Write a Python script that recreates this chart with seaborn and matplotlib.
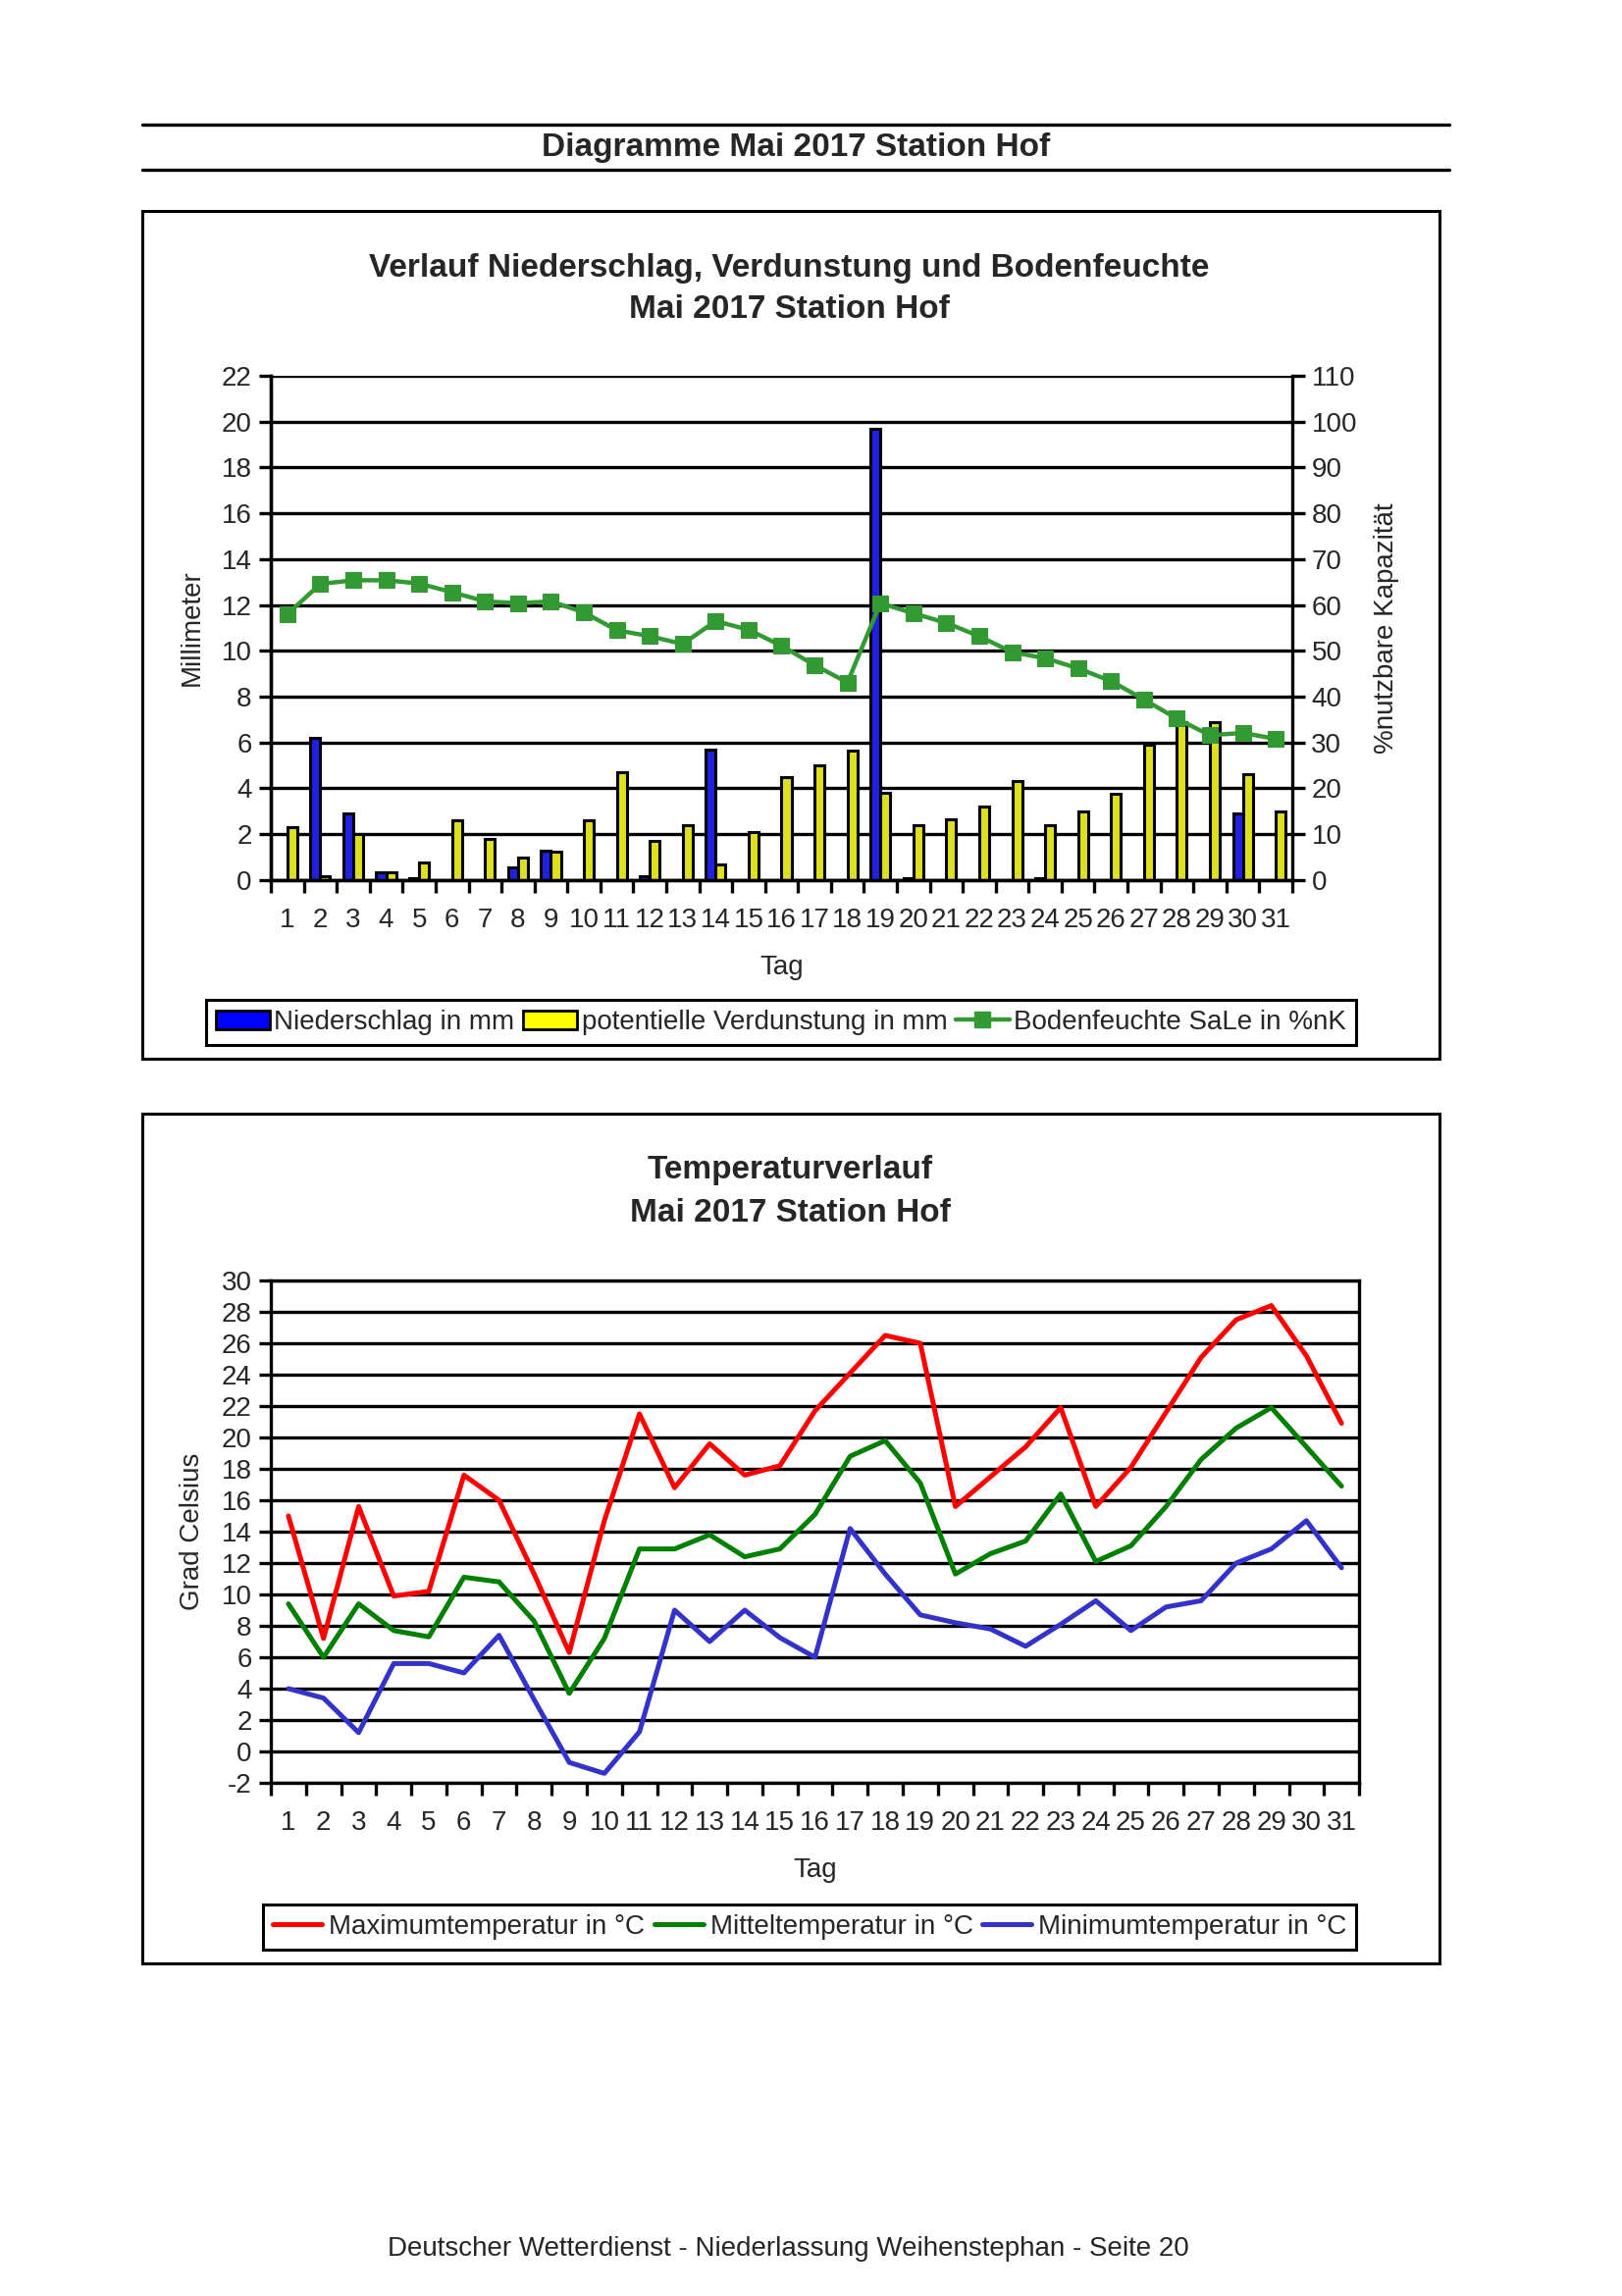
import numpy as np
import pandas as pd
import seaborn as sns
import matplotlib.pyplot as plt
from matplotlib.patches import Rectangle, Patch
from matplotlib.lines import Line2D

sns.set_theme(style="white")
plt.rcParams['font.family'] = ['Liberation Sans', 'DejaVu Sans']
plt.rcParams['axes.unicode_minus'] = False

# %% data
days = np.arange(1, 32)
niederschlag = [0, 6.2, 2.9, 0.35, 0.1, 0, 0, 0.55, 1.3, 0, 0, 0.15, 0, 5.7, 0,
                0, 0, 0, 19.7, 0.1, 0, 0, 0, 0.1, 0, 0, 0, 0, 0, 2.9, 0]
verdunstung = [2.3, 0.15, 2.0, 0.35, 0.75, 2.6, 1.8, 1.0, 1.25, 2.6, 4.7, 1.7, 2.4, 0.7, 2.1,
               4.5, 5.0, 5.65, 3.8, 2.4, 2.65, 3.2, 4.3, 2.4, 3.0, 3.75, 5.9, 6.9, 6.9, 4.6, 3.0]
bodenfeuchte = [58.0, 64.6, 65.4, 65.4, 64.7, 62.8, 60.8, 60.4, 60.8, 58.4, 54.5, 53.2, 51.5, 56.5, 54.6,
                51.1, 46.9, 43.1, 60.4, 58.2, 56.1, 53.2, 49.7, 48.4, 46.2, 43.4, 39.4, 35.2, 31.6, 32.1, 30.8]

t_max = [15.0, 7.2, 15.6, 9.9, 10.2, 17.6, 16.0, 11.3, 6.3, 14.7, 21.5, 16.8, 19.6, 17.6, 18.2,
         21.7, 24.1, 26.5, 26.0, 15.6, 17.5, 19.4, 21.9, 15.6, 18.1, 21.6, 25.1, 27.5, 28.4, 25.2, 20.9]
t_mittel = [9.4, 6.0, 9.4, 7.7, 7.3, 11.1, 10.8, 8.3, 3.7, 7.2, 12.9, 12.9, 13.8, 12.4, 12.9,
            15.1, 18.8, 19.8, 17.1, 11.3, 12.6, 13.4, 16.4, 12.1, 13.1, 15.6, 18.6, 20.6, 21.9, 19.4, 16.9]
t_min = [4.0, 3.4, 1.2, 5.6, 5.6, 5.0, 7.4, 3.3, -0.7, -1.4, 1.25, 9.0, 7.0, 9.0, 7.25,
         6.0, 14.2, 11.3, 8.7, 8.2, 7.8, 6.7, 8.1, 9.6, 7.7, 9.2, 9.6, 12.0, 12.9, 14.7, 11.7]

FS = 20
TS = 24
BLACK = "black"

fig = plt.figure(figsize=(16.53, 23.40), dpi=100)

# %% page decoration
for y in (0.9457, 0.9261):
    fig.add_artist(Line2D([0.0877, 0.8935], [y, y], color=BLACK, lw=2.4, transform=fig.transFigure))
fig.text(0.4906, 0.9355, "Diagramme Mai 2017 Station Hof", ha="center", va="center",
         fontsize=TS, fontweight="bold")
for bottom, top in ((0.5389, 0.9081), (0.1449, 0.5150)):
    fig.add_artist(Rectangle((0.0877, bottom), 0.8875 - 0.0877, top - bottom, fill=False,
                             ec=BLACK, lw=2.2, transform=fig.transFigure))
fig.text(0.4858, 0.0205, "Deutscher Wetterdienst - Niederlassung Weihenstephan - Seite 20",
         ha="center", va="center", fontsize=FS)


def style_axis(ax, ylim, yticks):
    ax.set_ylim(*ylim)
    ax.set_yticks(yticks)
    ax.set_xlim(0.5, 31.5)
    ax.set_xticks(days)
    ax.set_xticklabels([str(d) for d in days])
    ax.set_xticks(np.arange(0.5, 32, 1), minor=True)
    ax.tick_params(axis="x", which="major", length=0, pad=20, labelsize=FS)
    ax.tick_params(axis="x", which="minor", length=9, width=2.4, color=BLACK, bottom=True)
    ax.tick_params(axis="y", length=9, width=2.4, color=BLACK, left=True, labelsize=FS, pad=5)
    ax.grid(False)
    for y in yticks:
        ax.axhline(y, color=BLACK, lw=2.4, zorder=0.5)
    for s in ax.spines.values():
        s.set_color(BLACK)
        s.set_linewidth(2.4)


# %% chart 1: precipitation, evaporation, soil moisture
fig.text(0.4866, 0.8833, "Verlauf Niederschlag, Verdunstung und Bodenfeuchte", ha="center",
         va="center", fontsize=TS, fontweight="bold")
fig.text(0.4866, 0.8650, "Mai 2017 Station Hof", ha="center", va="center", fontsize=TS, fontweight="bold")

ax1 = fig.add_axes([0.1670, 0.6167, 0.6297, 0.2196])
bars = pd.DataFrame({
    "Tag": np.concatenate([days, days]),
    "mm": niederschlag + verdunstung,
    "Reihe": ["Niederschlag in mm"] * 31 + ["potentielle Verdunstung in mm"] * 31,
})
sns.barplot(data=bars, x="Tag", y="mm", hue="Reihe", native_scale=True, width=0.6,
            palette=["#0000FF", "#FFFF00"], edgecolor=BLACK, linewidth=2.2,
            legend=False, ax=ax1, zorder=2)
style_axis(ax1, (0, 22), np.arange(0, 23, 2))
ax1.set_ylabel("Millimeter", fontsize=FS, labelpad=12)
ax1.set_xlabel("Tag", fontsize=FS, labelpad=16)

ax1r = ax1.twinx()
sns.lineplot(x=days, y=bodenfeuchte, ax=ax1r, color="#339933", lw=3.2, marker="s",
             markersize=11, markeredgecolor="#339933", zorder=3)
ax1r.set_ylim(0, 110)
ax1r.set_yticks(np.arange(0, 111, 10))
ax1r.tick_params(axis="y", length=9, width=2.4, color=BLACK, right=True, labelsize=FS, pad=5)
ax1r.grid(False)
ax1r.set_ylabel("%nutzbare Kapazität", fontsize=FS, labelpad=12)
for s in ax1r.spines.values():
    s.set_linewidth(2.4)
    s.set_color(BLACK)
ax1r.spines["top"].set_visible(False)
ax1.spines["top"].set_visible(False)
ax1.spines["right"].set_visible(False)

h1 = [Patch(fc="#0000FF", ec=BLACK, lw=2), Patch(fc="#FFFF00", ec=BLACK, lw=2),
      Line2D([], [], color="#339933", lw=3.2, marker="s", markersize=11)]
l1 = ["Niederschlag in mm", "potentielle Verdunstung in mm", "Bodenfeuchte SaLe in %nK"]
leg1 = fig.legend(h1, l1, loc="center", bbox_to_anchor=(0.4815, 0.5547), ncol=3, fontsize=FS,
                  frameon=True, fancybox=False, edgecolor=BLACK, framealpha=1,
                  handlelength=2.0, handletextpad=0.15, columnspacing=0.3, borderpad=0.35,
                  borderaxespad=0.2)
leg1.get_frame().set_linewidth(2.2)

# %% chart 2: temperature
fig.text(0.4874, 0.4902, "Temperaturverlauf", ha="center", va="center", fontsize=TS, fontweight="bold")
fig.text(0.4874, 0.4714, "Mai 2017 Station Hof", ha="center", va="center", fontsize=TS, fontweight="bold")

ax2 = fig.add_axes([0.1670, 0.2235, 0.6709, 0.2188])
temps = pd.DataFrame({"Tag": days, "max": t_max, "mittel": t_mittel, "min": t_min})
sns.lineplot(data=temps, x="Tag", y="max", color="#FF0000", lw=3.6, ax=ax2, zorder=3)
sns.lineplot(data=temps, x="Tag", y="mittel", color="#008000", lw=3.6, ax=ax2, zorder=3)
sns.lineplot(data=temps, x="Tag", y="min", color="#3333CC", lw=3.6, ax=ax2, zorder=3)
style_axis(ax2, (-2, 30), np.arange(-2, 31, 2))
ax2.set_ylabel("Grad Celsius", fontsize=FS, labelpad=12)
ax2.set_xlabel("Tag", fontsize=FS, labelpad=16)

h2 = [Line2D([], [], color=c, lw=3.6) for c in ("#FF0000", "#008000", "#3333CC")]
l2 = ["Maximumtemperatur in °C", "Mitteltemperatur in °C", "Minimumtemperatur in °C"]
leg2 = fig.legend(h2, l2, loc="center", bbox_to_anchor=(0.4993, 0.1607), ncol=3, fontsize=FS,
                  frameon=True, fancybox=False, edgecolor=BLACK, framealpha=1,
                  handlelength=1.8, handletextpad=0.25, columnspacing=0.35, borderpad=0.35)
leg2.get_frame().set_linewidth(2.2)

fig.savefig("out.png", dpi=100, facecolor="white")
